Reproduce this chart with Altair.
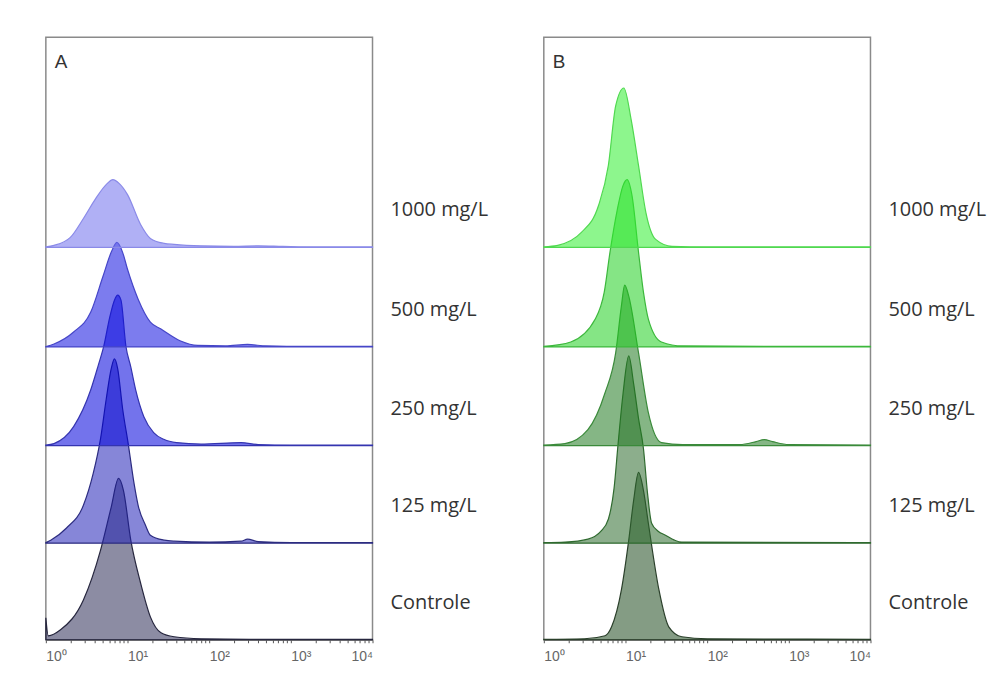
import altair as alt
import pandas as pd

LANES = ["Controle", "125 mg/L", "250 mg/L", "500 mg/L", "1000 mg/L"]
OFFSETS = [0, 97, 195, 294, 394]

# ---- Panel A (log10 of intensity, height of histogram in lane units) ----
A_CTRL_LOG = [0.0, 0.03, 0.18, 0.46, 0.67, 0.80, 0.89, 0.95, 1.04, 1.16, 1.28, 1.41, 1.57, 1.9, 2.5, 4.0]
A_CTRL_H = [22, 4, 10, 40, 90, 133, 162, 150, 100, 57, 23, 7, 3, 1, 0.5, 0.5]
A_125_LOG = [0.0, 0.06, 0.25, 0.46, 0.58, 0.67, 0.74, 0.80, 0.84, 0.88, 0.94, 1.01, 1.08, 1.13, 1.22, 1.28, 1.45, 1.57, 2.0, 2.39, 2.47, 2.6, 3.0, 4.0]
A_125_H = [0.5, 3, 15, 38, 70, 105, 145, 175, 185, 175, 135, 99, 60, 38, 18, 8, 3, 2, 1, 2, 4, 1.5, 0.5, 0.5]
A_250_LOG = [0.0, 0.10, 0.34, 0.55, 0.64, 0.71, 0.78, 0.84, 0.88, 0.92, 0.98, 1.04, 1.10, 1.20, 1.32, 1.45, 1.6, 1.9, 2.39, 2.6, 3.0, 4.0]
A_250_H = [0.5, 2, 19, 56, 80, 100, 128, 146, 151, 146, 100, 79, 56, 29, 13, 6, 3, 1.5, 3, 1, 0.5, 0.5]
A_500_LOG = [0.0, 0.10, 0.34, 0.55, 0.70, 0.80, 0.87, 0.94, 1.00, 1.13, 1.28, 1.41, 1.65, 1.86, 2.2, 2.47, 2.7, 3.2, 4.0]
A_500_H = [0.5, 3, 15, 35, 71, 95, 105, 95, 78, 48, 25, 18, 6, 1.5, 1, 2.5, 1, 0.5, 0.5]
A_1000_LOG = [0.0, 0.10, 0.30, 0.46, 0.61, 0.75, 0.82, 0.90, 1.00, 1.16, 1.28, 1.45, 1.57, 1.9, 2.3, 2.6, 2.9, 3.3, 4.0]
A_1000_H = [0.5, 2, 10, 29, 49, 64, 68, 64, 53, 23, 9, 4, 3, 1.5, 1, 1.5, 1, 0.5, 0.5]

# ---- Panel B ----
B_CTRL_LOG = [0.0, 0.5, 0.75, 0.83, 0.95, 1.04, 1.10, 1.16, 1.22, 1.28, 1.41, 1.53, 1.69, 2.0, 4.0]
B_CTRL_H = [0.5, 1, 4, 13, 50, 100, 140, 168, 150, 117, 50, 13, 3, 1, 0.5]
B_125_LOG = [0.0, 0.26, 0.54, 0.70, 0.79, 0.86, 0.91, 0.97, 1.04, 1.10, 1.16, 1.22, 1.27, 1.32, 1.40, 1.49, 1.60, 1.69, 4.0]
B_125_H = [0.5, 1, 4, 12, 24, 55, 100, 150, 188, 160, 125, 95, 50, 20, 12, 8, 3, 1, 0.5]
B_250_LOG = [0.0, 0.26, 0.54, 0.75, 0.88, 0.95, 0.99, 1.04, 1.16, 1.28, 1.44, 1.7, 2.4, 2.6, 2.7, 2.8, 3.0, 4.0]
B_250_H = [0.5, 2, 16, 53, 93, 140, 161, 150, 93, 33, 3, 1, 1, 4, 6, 4, 1, 0.5]
B_500_LOG = [0.0, 0.33, 0.63, 0.74, 0.81, 0.90, 0.97, 1.02, 1.08, 1.16, 1.22, 1.28, 1.44, 1.7, 4.0]
B_500_H = [0.5, 5, 28, 55, 95, 138, 162, 168, 152, 95, 55, 28, 5, 1, 0.5]
B_1000_LOG = [0.0, 0.17, 0.46, 0.67, 0.79, 0.88, 0.98, 1.07, 1.16, 1.25, 1.37, 1.57, 2.0, 4.0]
B_1000_H = [0.5, 2, 15, 42, 82, 142, 160, 128, 82, 35, 8, 1, 0.5, 0.5]

A_FILLS = ["#2e2e58", "#2222b8", "#0000dd", "#1010e0", "#7070ec"]
A_STROKES = ["#26263e", "#2c2c80", "#3434b0", "#4646c8", "#8a8ae8"]
B_FILLS = ["#1f4a1f", "#2d6b2d", "#207a20", "#20d020", "#30ee30"]
B_STROKES = ["#2a3f2a", "#2f6a2f", "#3a8a3a", "#3cb83c", "#50d850"]

TICK_VALUES = [m * 10 ** k for k in range(4) for m in range(1, 10)] + [10000]

W, H = 328, 605


def build(curves):
    rows = []
    for lane, off, (logs, hs) in zip(LANES, OFFSETS, curves):
        for lg, h in zip(logs, hs):
            rows.append({"lane": lane, "x": 10 ** lg, "y": off + h, "y0": off})
    return pd.DataFrame(rows)


def panel(letter, curves, fills, strokes):
    df = build(curves)
    xs = alt.Scale(type="log", domain=[1, 10000], nice=False)
    ys = alt.Scale(domain=[0, H], nice=False, zero=False)
    area = alt.Chart(df).mark_area(
        interpolate="monotone", fillOpacity=0.55, strokeWidth=1.2
    ).encode(
        x=alt.X("x:Q", scale=xs, title=None,
                axis=alt.Axis(values=TICK_VALUES, grid=False, tickSize=3,
                              tickColor="#555", domainColor="#666",
                              labelExpr="datum.value==1?'10⁰':datum.value==10?'10¹':datum.value==100?'10²':datum.value==1000?'10³':datum.value==10000?'10⁴':''",
                              labelFontSize=14, labelColor="#666", labelPadding=7,
                              labelAlign={"condition": {"test": "datum.value == 10000", "value": "right"}, "value": "left"},
                              labelFont="Liberation Sans")),
        y=alt.Y("y:Q", scale=ys, axis=None),
        y2="y0:Q",
        fill=alt.Fill("lane:N", scale=alt.Scale(domain=LANES, range=fills), legend=None),
        stroke=alt.Stroke("lane:N", scale=alt.Scale(domain=LANES, range=strokes), legend=None),
        order=alt.Order("lane:N"),
    )
    lab_df = pd.DataFrame({"lane": LANES, "ty": [o + 37 for o in OFFSETS]})
    labels = alt.Chart(lab_df).mark_text(
        align="left", baseline="middle", font="Open Sans", fontSize=20, color="#333"
    ).encode(
        x=alt.value(W + 18),
        y=alt.Y("ty:Q", scale=ys, axis=None),
        text="lane:N",
    )
    let_df = pd.DataFrame({"t": [letter]})
    letter_mark = alt.Chart(let_df).mark_text(
        align="left", baseline="middle", font="Liberation Sans", fontSize=19, color="#333"
    ).encode(x=alt.value(9), y=alt.value(25), text="t:N")
    return alt.layer(area, labels, letter_mark).properties(width=W, height=H)


pa = panel("A", [(A_CTRL_LOG, A_CTRL_H), (A_125_LOG, A_125_H), (A_250_LOG, A_250_H),
                 (A_500_LOG, A_500_H), (A_1000_LOG, A_1000_H)], A_FILLS, A_STROKES)
pb = panel("B", [(B_CTRL_LOG, B_CTRL_H), (B_125_LOG, B_125_H), (B_250_LOG, B_250_H),
                 (B_500_LOG, B_500_H), (B_1000_LOG, B_1000_H)], B_FILLS, B_STROKES)

chart = alt.hconcat(pa, pb, spacing=172, bounds="flush").resolve_scale(
    fill="independent", stroke="independent"
).properties(
    padding={"left": 34, "top": 27, "right": 0, "bottom": 0}
).configure_view(stroke="#8a8a8a", strokeWidth=1.5)

chart.save("out.html", embed_options={"renderer": "svg", "actions": False})
